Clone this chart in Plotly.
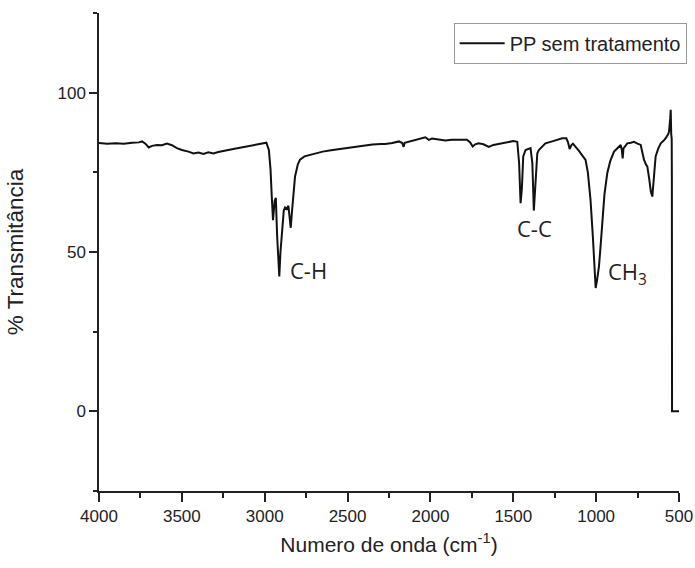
import plotly.graph_objects as go

wavenumber = [4000, 3950, 3900, 3850, 3800, 3760, 3740, 3720, 3700, 3680, 3650, 3620, 3590, 3560, 3530,
              3500, 3460, 3430, 3400, 3370, 3340, 3310, 3280, 3250, 3220, 3190, 3160, 3130, 3100, 3070,
              3040, 3010, 2990, 2975, 2965, 2958, 2950, 2940, 2933, 2925, 2918, 2912, 2905, 2895, 2885,
              2877, 2867, 2857, 2850, 2843, 2835, 2825, 2817, 2800, 2787, 2760, 2720, 2686, 2650, 2600,
              2550, 2514, 2450, 2400, 2350, 2300, 2273, 2230, 2190, 2170, 2162, 2155, 2120, 2080, 2050,
              2031, 2010, 1990, 1950, 1910, 1870, 1820, 1780, 1760, 1745, 1730, 1709, 1680, 1648, 1620,
              1580, 1540, 1500, 1476, 1465, 1456, 1448, 1440, 1426, 1396, 1385, 1376, 1366, 1355, 1346,
              1306, 1260, 1230, 1205, 1180, 1170, 1160, 1150, 1140, 1124, 1100, 1094, 1080, 1064, 1050,
              1034, 1020, 1010, 1003, 995, 983, 973, 963, 950, 933, 915, 892, 870, 852, 845,
              840, 835, 812, 790, 772, 750, 731, 720, 711, 700, 691, 680, 670, 661, 655,
              641, 625, 610, 595, 580, 565, 560, 553, 550, 547, 544, 543, 542, 500]
transmittance = [84.2, 84.0, 84.1, 84.0, 84.3, 84.4, 84.7, 84.0, 82.8, 83.3, 83.6, 83.5, 84.0, 83.5, 82.6,
                 82.0, 81.5, 80.9, 81.2, 80.8, 81.3, 80.9, 81.4, 81.6, 82.0, 82.3, 82.6, 82.9, 83.2, 83.6,
                 84.0, 84.3, 84.3, 82.0, 76.0, 68.0, 60.0, 66.0, 67.0, 55.0, 46.0, 42.3, 50.0, 58.0, 63.0,
                 64.0, 63.5, 64.5, 61.0, 57.6, 63.0, 70.0, 73.7, 77.5, 79.0, 80.0, 80.6, 81.0, 81.5, 81.9,
                 82.3, 82.6, 83.0, 83.4, 83.7, 83.9, 83.9, 84.2, 84.7, 84.2, 83.0, 84.3, 84.8, 85.2, 85.6,
                 86.0, 85.2, 85.6, 85.3, 85.0, 85.2, 85.3, 85.2, 84.4, 83.1, 83.8, 84.1, 83.8, 83.0, 83.6,
                 84.0, 84.6, 84.8, 84.6, 78.0, 65.3, 70.0, 80.0, 82.0, 82.6, 78.0, 63.0, 72.0, 81.0, 82.0,
                 84.1, 84.8, 85.3, 85.7, 85.7, 84.5, 82.3, 83.5, 84.0, 83.1, 81.5, 81.0, 80.0, 78.9, 75.0,
                 66.4, 55.0, 45.0, 38.7, 41.0, 45.5, 52.0, 60.0, 68.0, 74.7, 78.5, 81.5, 82.8, 83.6, 82.0,
                 79.4, 82.5, 84.1, 84.3, 84.6, 84.0, 83.6, 81.0, 78.9, 77.5, 76.8, 73.0, 69.0, 67.4, 72.0,
                 80.0, 82.5, 84.1, 84.8, 85.7, 87.0, 87.8, 92.0, 94.6, 87.0, 85.5, 73.0, 0.0, 0.0]

series_name = "PP sem tratamento"
band_labels = ["C-H", "C-C", "CH<sub>3</sub>"]
band_x = [2738, 1370, 812]
band_y = [44.5, 57.5, 43.5]

x_ticks = [4000, 3500, 3000, 2500, 2000, 1500, 1000, 500]
y_ticks = [0, 50, 100]

fig = go.Figure()
fig.add_trace(go.Scatter(x=wavenumber, y=transmittance, mode="lines", name=series_name,
                         line=dict(color="#111111", width=2)))

for t, bx, by in zip(band_labels, band_x, band_y):
    fig.add_annotation(x=bx, y=by, text=t, showarrow=False,
                       font=dict(family="Open Sans, Noto Sans, sans-serif", size=22, color="#222222"))

axis_font = dict(family="Liberation Sans, Arial, sans-serif", size=17, color="#222222")
fig.update_layout(
    width=695, height=568,
    margin=dict(l=99, r=16, t=13, b=77, autoexpand=False),
    plot_bgcolor="white", paper_bgcolor="white",
    showlegend=True,
    legend=dict(xref="container", yref="container", x=0.988, y=0.96,
                xanchor="right", yanchor="top",
                bordercolor="#999999", borderwidth=1, bgcolor="white",
                font=dict(family="Liberation Sans, Arial, sans-serif", size=20, color="#222222"),
                itemwidth=45, tracegroupgap=0),
    xaxis=dict(range=[4000, 500], tickvals=x_ticks, ticks="outside", ticklen=9, tickwidth=1.5,
               tickcolor="#222222", showline=True, linecolor="#222222", linewidth=1.5,
               showgrid=False, zeroline=False, tickfont=axis_font, automargin=False,
               minor=dict(dtick=250, tick0=500, ticks="outside", ticklen=5, tickwidth=1.5,
                          tickcolor="#222222", showgrid=False),
               title=dict(text="Numero de onda (cm<sup>-1</sup>)", standoff=12,
                          font=dict(family="Liberation Sans, Arial, sans-serif", size=21, color="#222222"))),
    yaxis=dict(range=[-25, 125], tickvals=y_ticks, ticks="outside", ticklen=8, tickwidth=1.5,
               tickcolor="#222222", showline=True, linecolor="#222222", linewidth=1.5,
               showgrid=False, zeroline=False, tickfont=axis_font, automargin=False,
               minor=dict(dtick=25, tick0=0, ticks="outside", ticklen=4, tickwidth=1.5,
                          tickcolor="#222222", showgrid=False),
               title=dict(text="% Transmitância", standoff=28,
                          font=dict(family="Liberation Sans, Arial, sans-serif", size=22.5, color="#222222"))),
)

fig.write_html("out.html", config={"displayModeBar": False},
               post_script="document.body.style.margin='0';document.body.style.padding='0';")
